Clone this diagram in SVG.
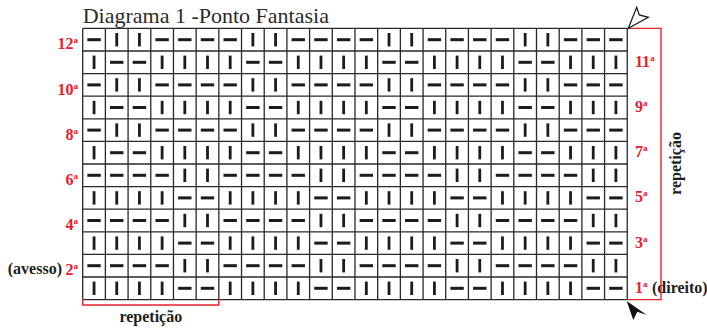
<svg xmlns="http://www.w3.org/2000/svg" width="707" height="328" viewBox="0 0 707 328">
<style>
.title{font-family:"Liberation Serif","Times New Roman",serif;font-size:22px;fill:#2b2b2b}
.lbl{font-family:"Liberation Serif","Times New Roman",serif;font-size:16px;font-weight:bold;fill:#e8212b}
.blk{font-family:"Liberation Serif","Times New Roman",serif;font-size:16px;font-weight:bold;fill:#1e1e1e}
.sup{font-size:9px}
.gl{fill:none;stroke:#2a2a2a;stroke-width:1.3}
.sym{fill:#1c1c1c}
.red{fill:none;stroke:#e8212b;stroke-width:1.4}
</style>
<defs>
<rect id="h" class="sym" x="-6.7" y="-1.5" width="13.4" height="3"/>
<rect id="v" class="sym" x="-1.4" y="-6.7" width="2.8" height="13.4"/>
<g id="uA"><use href="#h" x="11.35"/><use href="#v" x="34.04"/><use href="#v" x="56.73"/><use href="#h" x="79.42"/><use href="#h" x="102.11"/><use href="#h" x="124.8"/></g>
<g id="uB"><use href="#v" x="11.35"/><use href="#h" x="34.04"/><use href="#h" x="56.73"/><use href="#v" x="79.42"/><use href="#v" x="102.11"/><use href="#v" x="124.8"/></g>
<g id="uC"><use href="#h" x="11.35"/><use href="#h" x="34.04"/><use href="#h" x="56.73"/><use href="#h" x="79.42"/><use href="#v" x="102.11"/><use href="#v" x="124.8"/></g>
<g id="uD"><use href="#v" x="11.35"/><use href="#v" x="34.04"/><use href="#v" x="56.73"/><use href="#v" x="79.42"/><use href="#h" x="102.11"/><use href="#h" x="124.8"/></g>
<g id="rA"><use href="#uA" x="82.7"/><use href="#uA" x="218.84"/><use href="#uA" x="354.98"/><use href="#uA" x="491.12"/></g>
<g id="rB"><use href="#uB" x="82.7"/><use href="#uB" x="218.84"/><use href="#uB" x="354.98"/><use href="#uB" x="491.12"/></g>
<g id="rC"><use href="#uC" x="82.7"/><use href="#uC" x="218.84"/><use href="#uC" x="354.98"/><use href="#uC" x="491.12"/></g>
<g id="rD"><use href="#uD" x="82.7"/><use href="#uD" x="218.84"/><use href="#uD" x="354.98"/><use href="#uD" x="491.12"/></g>
</defs>
<rect width="707" height="328" fill="#ffffff"/>
<text id="title" class="title" x="82.7" y="23.3">Diagrama 1 -Ponto Fantasia</text>
<g id="chart">
<path class="gl" d="M82.7 28.4V299.6M105.39 28.4V299.6M128.08 28.4V299.6M150.77 28.4V299.6M173.46 28.4V299.6M196.15 28.4V299.6M218.84 28.4V299.6M241.53 28.4V299.6M264.22 28.4V299.6M286.91 28.4V299.6M309.6 28.4V299.6M332.29 28.4V299.6M354.98 28.4V299.6M377.67 28.4V299.6M400.36 28.4V299.6M423.05 28.4V299.6M445.74 28.4V299.6M468.43 28.4V299.6M491.12 28.4V299.6M513.81 28.4V299.6M536.5 28.4V299.6M559.19 28.4V299.6M581.88 28.4V299.6M604.57 28.4V299.6M627.26 28.4V299.6M82.7 28.4H627.26M82.7 51H627.26M82.7 73.6H627.26M82.7 96.2H627.26M82.7 118.8H627.26M82.7 141.4H627.26M82.7 164H627.26M82.7 186.6H627.26M82.7 209.2H627.26M82.7 231.8H627.26M82.7 254.4H627.26M82.7 277H627.26M82.7 299.6H627.26"/>
<use href="#rA" y="39.7"/>
<use href="#rB" y="62.3"/>
<use href="#rA" y="84.9"/>
<use href="#rB" y="107.5"/>
<use href="#rA" y="130.1"/>
<use href="#rB" y="152.7"/>
<use href="#rC" y="175.3"/>
<use href="#rD" y="197.9"/>
<use href="#rC" y="220.5"/>
<use href="#rD" y="243.1"/>
<use href="#rC" y="265.7"/>
<use href="#rD" y="288.3"/>
</g>
<g id="left-labels" text-anchor="end">
<text class="lbl" x="78" y="49.3">12<tspan class="sup" dy="-6">a</tspan></text>
<text class="lbl" x="78" y="94.5">10<tspan class="sup" dy="-6">a</tspan></text>
<text class="lbl" x="78" y="139.7">8<tspan class="sup" dy="-6">a</tspan></text>
<text class="lbl" x="78" y="184.9">6<tspan class="sup" dy="-6">a</tspan></text>
<text class="lbl" x="78" y="230.1">4<tspan class="sup" dy="-6">a</tspan></text>
<text class="lbl" x="78" y="275.3">2<tspan class="sup" dy="-6">a</tspan></text>
<text class="blk" x="62" y="274">(avesso)</text>
</g>
<g id="right-labels">
<text class="lbl" x="635" y="66.7">11<tspan class="sup" dy="-6">a</tspan></text>
<text class="lbl" x="635" y="111.9">9<tspan class="sup" dy="-6">a</tspan></text>
<text class="lbl" x="635" y="157.1">7<tspan class="sup" dy="-6">a</tspan></text>
<text class="lbl" x="635" y="202.3">5<tspan class="sup" dy="-6">a</tspan></text>
<text class="lbl" x="635" y="247.5">3<tspan class="sup" dy="-6">a</tspan></text>
<text class="lbl" x="635" y="292.7">1<tspan class="sup" dy="-6">a</tspan></text>
<text class="blk" x="652" y="292.7">(direito)</text>
</g>
<g id="connectors">
<path class="red" d="M627.26 28.4H661V299.6H627.26"/>
<path class="red" d="M82.7 299.6V305H218.84V299.6"/>
<polygon points="628.3,28.3 636.7,7.3 639.3,15 648.3,17.3" fill="#ffffff" stroke="#1e1e1e" stroke-width="1.3" stroke-linejoin="miter"/>
<polygon points="626.7,301 646.7,315 637.3,311.7 633.3,320" fill="#111111"/>
</g>
<g id="repeat-labels" text-anchor="middle">
<text class="blk" x="150.8" y="322">repetição</text>
<text class="blk" transform="translate(681 163.5) rotate(-90)" x="0" y="0">repetição</text>
</g>
</svg>
